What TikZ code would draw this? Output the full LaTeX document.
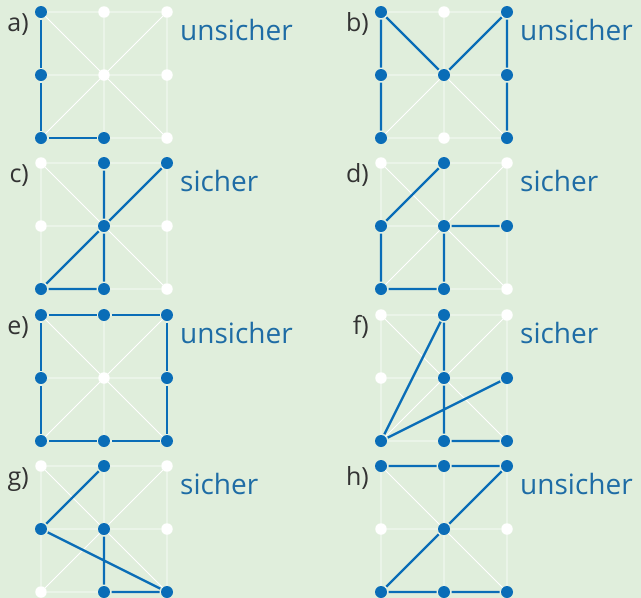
\documentclass[tikz,border=0pt]{standalone}
\usepackage{fontspec}
\setmainfont{Open Sans}
\usepackage{tikz}
\definecolor{bg}{HTML}{E0EEDC}
\definecolor{dotblue}{HTML}{0A6DB7}
\definecolor{textblue}{HTML}{1E6CA5}
\definecolor{labgray}{HTML}{333333}
\tikzstyle{dot} = [circle, fill=white, inner sep=0pt, minimum size=11.5pt]
\tikzstyle{bluedot} = [circle, fill=dotblue, inner sep=0pt, minimum size=12pt,
    outer sep=1.5pt]
\tikzstyle{gridline} = [white, line width=0.9pt]
\tikzstyle{edge} = [dotblue, line width=2.3pt]
\tikzstyle{letter} = [anchor=base east, inner sep=0pt, text=labgray,
    font=\fontsize{25}{25}\selectfont]
\tikzstyle{verdict} = [anchor=base west, inner sep=0pt, text=textblue,
    font=\fontsize{28}{28}\selectfont]

\begin{document}
\begin{tikzpicture}[x=1pt, y=-1pt]
  \fill[bg] (0,0) rectangle (641,598);
  \useasboundingbox (0,0) rectangle (641,598);
  % the eight 3x3 grids
  \foreach \n/\x/\y/\t in {a/41/12/unsicher, b/381/12/unsicher,
      c/41/163/sicher, d/381/163/sicher, e/41/315/unsicher,
      f/381/315/sicher, g/41/466/sicher, h/381/466/unsicher} {
    \foreach \c in {0,1,2}
      \foreach \r in {0,1,2}
        \node [dot] (\n\c\r) at (\x+63*\c, \y+63*\r) {};
    \draw [gridline] (\n00) -- (\n20) (\n01) -- (\n21) (\n02) -- (\n22)
      (\n00) -- (\n02) (\n10) -- (\n12) (\n20) -- (\n22)
      (\n00) -- (\n22) (\n20) -- (\n02);
    \node [letter] (lab\n) at (\x-12, \y+19) {\n)};
    \node [verdict] (res\n) at (\x+139, \y+28) {\t};
  }
  % blue dots
  \foreach \p in {00,01,02,12} \node [bluedot] (a\p b) at (a\p) {};
  \foreach \p in {00,20,01,11,21,02,22} \node [bluedot] (b\p b) at (b\p) {};
  \foreach \p in {10,20,11,02,12} \node [bluedot] (c\p b) at (c\p) {};
  \foreach \p in {10,01,11,21,02,12} \node [bluedot] (d\p b) at (d\p) {};
  \foreach \p in {00,10,20,01,21,02,12,22} \node [bluedot] (e\p b) at (e\p) {};
  \foreach \p in {10,11,21,02,12,22} \node [bluedot] (f\p b) at (f\p) {};
  \foreach \p in {10,01,11,12,22} \node [bluedot] (g\p b) at (g\p) {};
  \foreach \p in {00,10,20,11,02,12,22} \node [bluedot] (h\p b) at (h\p) {};
  % blue lines
  \draw [edge] (a00b) -- (a01b) -- (a02b) -- (a12b);
  \draw [edge] (b02b) -- (b01b) -- (b00b) -- (b11b) -- (b20b) -- (b21b) -- (b22b);
  \draw [edge] (c10b) -- (c11b) -- (c12b) -- (c02b) -- (c11b) -- (c20b);
  \draw [edge] (d10b) -- (d01b) -- (d02b) -- (d12b) -- (d11b) -- (d21b);
  \draw [edge] (e00b) -- (e10b) -- (e20b) -- (e21b) -- (e22b) -- (e12b)
    -- (e02b) -- (e01b) -- (e00b);
  \draw [edge] (f21b) -- (f02b) -- (f10b) -- (f11b) -- (f12b) -- (f22b);
  \draw [edge] (g10b) -- (g01b) -- (g22b) -- (g12b) -- (g11b);
  \draw [edge] (h00b) -- (h10b) -- (h20b) -- (h11b) -- (h02b) -- (h12b) -- (h22b);
\end{tikzpicture}
\end{document}
